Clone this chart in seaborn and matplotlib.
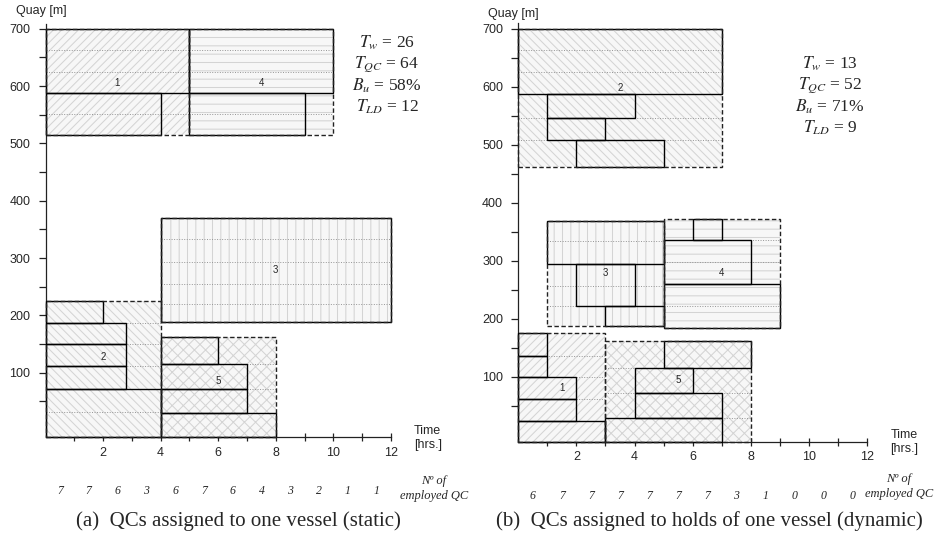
import numpy as np
import matplotlib
matplotlib.use("Agg")
import matplotlib.pyplot as plt
from matplotlib.patches import Rectangle
import seaborn as sns

# ---------------- (a) static plan: QCs assigned to one vessel ----------------
static_vessel = [1, 2, 3, 4, 5]
static_berth_start = [0, 0, 4, 5, 4]
static_berth_end = [5, 4, 12, 10, 8]
static_quay_lo = [514, -12, 188, 514, -12]
static_quay_hi = [700, 225, 369, 700, 162]

static_task_vessel = [1, 1, 4, 4, 3, 2, 2, 2, 2, 2, 5, 5, 5, 5]
static_task_start = [0, 0, 5, 5, 4, 0, 0, 0, 0, 0, 4, 4, 4, 4]
static_task_end = [5, 4, 10, 9, 12, 2, 2.8, 2.8, 2.8, 4, 6, 7, 7, 8]
static_task_lo = [588, 514, 588, 514, 188, 187, 150, 112, 71, -12, 116, 72, 29, -12]
static_task_hi = [700, 588, 700, 588, 369, 225, 187, 150, 112, 71, 162, 116, 72, 29]

static_hold_vessel = [1, 1, 1, 1, 4, 4, 4, 4, 3, 3, 3, 3, 2, 2, 2, 2, 2, 5, 5, 5]
static_hold_quay = [551, 588, 625, 662, 551, 588, 625, 662, 220, 255, 293, 334,
                    31, 71, 112, 150, 187, 29, 72, 116]

static_label_time = [2.5, 2.0, 8.0, 7.5, 6.0]
static_label_quay = [606, 127, 279, 606, 86]

static_qc = [7, 7, 6, 3, 6, 7, 6, 4, 3, 2, 1, 1]
static_kpi = [r"$T_w$ = 26", r"$T_{QC}$ = 64", r"$B_u$ = 58%", r"$T_{LD}$ = 12"]

# ---------------- (b) dynamic plan: QCs assigned to holds ----------------
dynamic_vessel = [1, 2, 3, 4, 5]
dynamic_berth_start = [0, 0, 1, 5, 3]
dynamic_berth_end = [3, 7, 5, 9, 8]
dynamic_quay_lo = [-12, 462, 188, 184, -12]
dynamic_quay_hi = [175, 700, 369, 372, 162]

dynamic_task_vessel = [2, 2, 2, 2, 3, 3, 3, 4, 4, 4, 1, 1, 1, 1, 1, 5, 5, 5, 5]
dynamic_task_start = [0, 1, 1, 2, 1, 2, 3, 6, 5, 5, 0, 0, 0, 0, 0, 5, 4, 4, 3]
dynamic_task_end = [7, 4, 3, 5, 5, 4, 5, 7, 8, 9, 1, 1, 2, 2, 3, 8, 6, 7, 7]
dynamic_task_lo = [587, 545, 508, 462, 294, 221, 188, 335, 259, 184,
                   136, 99, 61, 24, -12, 115, 72, 29, -12]
dynamic_task_hi = [700, 587, 545, 508, 369, 294, 221, 372, 335, 259,
                   175, 136, 99, 61, 24, 162, 115, 72, 29]

dynamic_hold_vessel = [2, 2, 2, 2, 2, 3, 3, 3, 3, 4, 4, 4, 4, 1, 1, 1, 1, 5, 5, 5]
dynamic_hold_quay = [508, 545, 587, 625, 663, 221, 256, 294, 334, 221, 259, 297, 335,
                     24, 61, 99, 136, 29, 72, 115]

dynamic_label_time = [1.5, 3.5, 3.0, 7.0, 5.5]
dynamic_label_quay = [81, 598, 279, 279, 95]

dynamic_qc = [6, 7, 7, 7, 7, 7, 7, 3, 1, 0, 0, 0]
dynamic_kpi = [r"$T_w$ = 13", r"$T_{QC}$ = 52", r"$B_u$ = 71%", r"$T_{LD}$ = 9"]

hours = np.arange(12) + 0.5

# ---------------- styling ----------------
sns.set_theme(style="ticks")
plt.rcParams["font.family"] = ["Liberation Sans", "DejaVu Sans"]
plt.rcParams["mathtext.fontset"] = "stix"
plt.rcParams["hatch.linewidth"] = 0.75
plt.rcParams["axes.linewidth"] = 0.9

HATCH = {1: "////", 2: "\\\\\\\\", 3: "||", 4: "--", 5: "xxx"}
HATCH_GRAY = "#d4d4d4"
FILL = "#f7f7f7"
SERIF = ["Liberation Serif", "DejaVu Serif"]

W, H = 943, 542
fig = plt.figure(figsize=(W / 100, H / 100), dpi=100)


def fpos(x, y):
    return x / W, 1 - y / H


def draw_plan(ax, vessels, t0s, t1s, los, his,
              tv, ts, te, tl, th, hv, hq, lx, ly, qc):
    span = {v: (a, b) for v, a, b in zip(vessels, t0s, t1s)}
    # hatched vessel areas (berthing time x quay length)
    for v, a, b, lo, hi in zip(vessels, t0s, t1s, los, his):
        ax.add_patch(Rectangle((a, lo), b - a, hi - lo, facecolor=FILL,
                               edgecolor=HATCH_GRAY, lw=0, hatch=HATCH[v],
                               zorder=1, clip_on=False))
    # hold boundaries
    for v, q in zip(hv, hq):
        a, b = span[v]
        ax.hlines(q, a, b, colors="#959595", linestyles=(0, (1, 1.6)),
                  lw=0.7, zorder=2)
    # QC work blocks
    for a, b, lo, hi in zip(ts, te, tl, th):
        ax.add_patch(Rectangle((a, lo), b - a, hi - lo, fill=False,
                               edgecolor="black", lw=1.0, zorder=3,
                               clip_on=False))
    # vessel outlines
    for a, b, lo, hi in zip(t0s, t1s, los, his):
        ax.add_patch(Rectangle((a, lo), b - a, hi - lo, fill=False,
                               edgecolor="#222222", lw=1.0,
                               linestyle=(0, (3.2, 1.8)), zorder=4,
                               clip_on=False))
    for v, x, y in zip(vessels, lx, ly):
        ax.text(x, y, str(v), ha="center", va="center", fontsize=7, zorder=5)

    ax.set_xlim(0, 12)
    ax.set_ylim(-12, 709)
    ax.set_xticks(range(2, 13, 2))
    ax.set_xticks(range(1, 12, 2), minor=True)
    ax.set_yticks(range(100, 701, 100))
    ax.set_yticks(range(50, 651, 100), minor=True)
    ax.tick_params(axis="x", which="both", direction="inout", length=6,
                   width=0.9, labelsize=9, pad=4, color="#222222")
    ax.tick_params(axis="y", which="both", direction="out", length=5,
                   width=0.9, labelsize=9, pad=6, color="#222222")
    ax.set_xlabel("")
    ax.set_ylabel("")
    sns.despine(ax=ax)
    for s in ("left", "bottom"):
        ax.spines[s].set_color("#222222")

    for x, n in zip(hours, qc):
        ax.annotate(str(n), xy=(x, 0), xycoords=("data", "axes fraction"),
                    xytext=(0, -39), textcoords="offset points",
                    ha="center", va="center", fontsize=8.5,
                    family=SERIF, style="italic")


ax_a = fig.add_axes([45.5 / W, (H - 437) / H, 345.5 / W, 413.5 / H])
draw_plan(ax_a, static_vessel, static_berth_start, static_berth_end,
          static_quay_lo, static_quay_hi,
          static_task_vessel, static_task_start, static_task_end,
          static_task_lo, static_task_hi,
          static_hold_vessel, static_hold_quay,
          static_label_time, static_label_quay, static_qc)

ax_b = fig.add_axes([518.3 / W, (H - 441.7) / H, 348.7 / W, 418.4 / H])
draw_plan(ax_b, dynamic_vessel, dynamic_berth_start, dynamic_berth_end,
          dynamic_quay_lo, dynamic_quay_hi,
          dynamic_task_vessel, dynamic_task_start, dynamic_task_end,
          dynamic_task_lo, dynamic_task_hi,
          dynamic_hold_vessel, dynamic_hold_quay,
          dynamic_label_time, dynamic_label_quay, dynamic_qc)

# axis captions
for (qx, qy), (tx, ty), (nx, ny) in [((15.5, 11), (414, 438), (468, 488.5)),
                                     ((487.5, 14), (890.5, 442), (933, 486.5))]:
    fig.text(*fpos(qx, qy), "Quay [m]", ha="left", va="center", fontsize=9)
    fig.text(*fpos(tx, ty), "Time\n[hrs.]", ha="left", va="center",
             fontsize=9, linespacing=1.3)
    fig.text(*fpos(nx, ny), "Nº of\nemployed QC", ha="right", va="center",
             fontsize=9, family=SERIF, style="italic", multialignment="center",
             linespacing=1.25)

# performance indicators
for cx, ys, kpi in [(387, [43, 64, 86, 107], static_kpi),
                    (830, [64, 85, 107, 128], dynamic_kpi)]:
    for y, s in zip(ys, kpi):
        fig.text(*fpos(cx, y), s, ha="center", va="center", fontsize=12.5,
                 family=SERIF)

fig.text(*fpos(238, 521), "(a)  QCs assigned to one vessel (static)",
         ha="center", va="center", fontsize=15, family=SERIF)
fig.text(*fpos(709, 521), "(b)  QCs assigned to holds of one vessel (dynamic)",
         ha="center", va="center", fontsize=15, family=SERIF)

fig.savefig("out.png", dpi=100, facecolor="white")
